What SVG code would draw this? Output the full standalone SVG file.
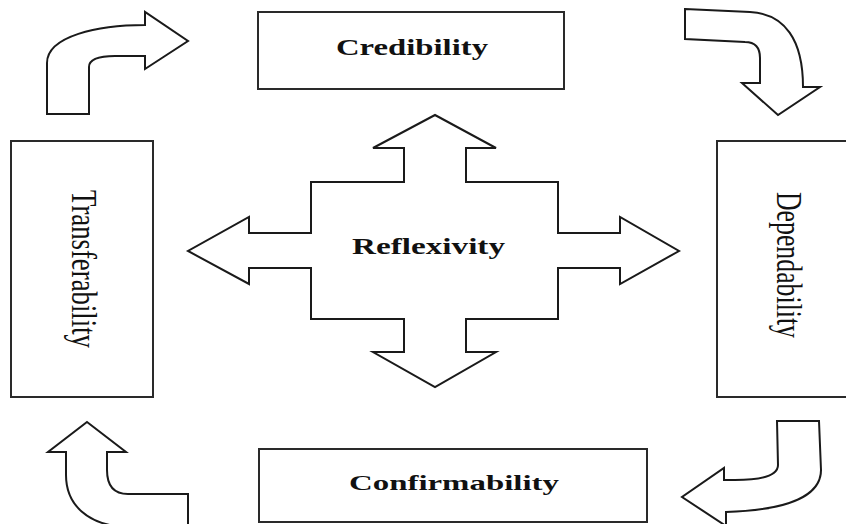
<svg xmlns="http://www.w3.org/2000/svg" width="846" height="524" viewBox="0 0 846 524">
<style>
.box{fill:#fff;stroke:#2a2a2a;stroke-width:2}
.shape{fill:#fff;stroke:#1a1a1a;stroke-width:2;stroke-linejoin:miter}
.lbl{font-family:"Liberation Serif","Times New Roman",serif;font-weight:bold;fill:#111}
.vlbl{font-family:"Liberation Serif","Times New Roman",serif;fill:#111}
</style>
<rect width="846" height="524" fill="#fff"/>
<g id="credibility">
<rect class="box" x="258" y="12" width="306" height="77"/>
<text class="lbl" x="336" y="55" font-size="23" textLength="152" lengthAdjust="spacingAndGlyphs">Credibility</text>
</g>
<g id="dependability">
<rect class="box" x="717" y="141" width="135" height="256"/>
<text class="vlbl" transform="translate(777,192) rotate(90)" font-size="36" textLength="146" lengthAdjust="spacingAndGlyphs">Dependability</text>
</g>
<g id="confirmability">
<rect class="box" x="259" y="449" width="388" height="73"/>
<text class="lbl" x="349" y="490" font-size="22" textLength="210" lengthAdjust="spacingAndGlyphs">Confirmability</text>
</g>
<g id="transferability">
<rect class="box" x="11" y="141" width="142" height="256"/>
<text class="vlbl" transform="translate(72,190) rotate(90)" font-size="36" textLength="158" lengthAdjust="spacingAndGlyphs">Transferability</text>
</g>
<g id="reflexivity">
<polygon class="shape" points="435,115 496,148 466,148 466,182 558,182 558,233 620,233 620,217 679,251 620,284 620,268 558,268 558,319 466,319 466,352 496,352 435,387 373,352 404,352 404,319 311,319 311,268 249,268 249,284 188,251 249,217 249,233 311,233 311,182 404,182 404,148 373,148"/>
<text class="lbl" x="352" y="254" font-size="24" textLength="153" lengthAdjust="spacingAndGlyphs">Reflexivity</text>
</g>
<g id="connectors">
<path class="shape" d="M47,114 L47,63 C47,36 98,25 145,25 L145,12 L188,41 L145,69 L145,56 L115,56 C98,56 89,60 89,67 L89,114 Z"/>
<path class="shape" d="M685,9 L750,12 C785,14 803,40 803,87 L820,87 L778,115 L742,83 L760,83 L760,58 C760,48 755,42 745,42 L685,39 Z"/>
<path class="shape" d="M777,421 L819,421 L821,470 C821,495 790,510 726,512 L726,526 L682,497 L724,468 L724,480 L735,480 C760,480 778,476 778,465 Z"/>
<path class="shape" d="M87,422 L126,452 L107,452 L107,470 C107,486 114,494 128,494 L188,494 L188,527 L125,527 C88,525 66,505 66,475 L66,452 L48,452 Z"/>
</g>
</svg>
